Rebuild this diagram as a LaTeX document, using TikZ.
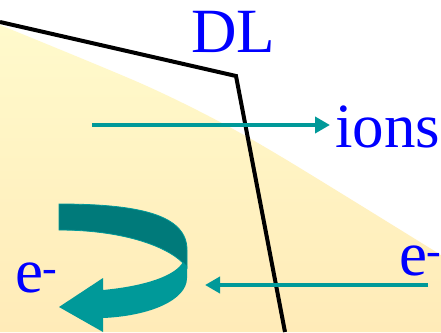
\documentclass[tikz,border=0pt]{standalone}
\usepackage{fontspec}
\setmainfont{Liberation Serif}
\usetikzlibrary{arrows.meta}
\definecolor{teal1}{RGB}{0,153,153}
\definecolor{tealdark}{RGB}{0,122,122}
\definecolor{ylwtop}{RGB}{255,250,204}
\definecolor{ylwbot}{RGB}{255,235,184}
\definecolor{txtblue}{RGB}{0,0,255}
\tikzset{
  lbl/.style={inner sep=0pt, outer sep=0pt, anchor=base west},
  tarrow/.style={draw=teal1, line width=4pt, -{Triangle[length=15pt,width=16pt]}},
  dlline/.style={draw=black, line width=4pt, line join=miter}
}
\newcommand{\bigtxt}[1]{{\fontspec{Liberation Serif}\fontsize{63}{63}\selectfont\color{txtblue}#1}}
\begin{document}
\begin{tikzpicture}[x=1pt,y=-1pt]
\useasboundingbox (0,0) rectangle (441,332);
\fill[white] (0,0) rectangle (441,332);
% yellow region
\shade[top color=ylwtop, bottom color=ylwbot]
  plot[smooth] coordinates {(0,25) (140,83) (220,122) (290,162) (441,255)}
  -- (441,332) -- (0,332) -- cycle;
% DL boundary line
\coordinate (p1) at (0,22);
\coordinate (p2) at (236,76);
\coordinate (p3) at (285,332);
\draw[dlline] (p1) -- (p2) -- (p3);
% labels
\node[lbl] (dl) at (191,52) {\bigtxt{DL}};
\node[lbl] (ions) at (335,147) {\bigtxt{ions}};
\node[lbl] (eright) at (399,275) {\bigtxt{e\textsuperscript{-}}};
\node[lbl] (eleft) at (15,292) {\bigtxt{e\textsuperscript{-}}};
% straight arrows
\coordinate (ia) at (92,125);
\coordinate (ib) at (330,125);
\draw[tarrow] (ia) -- (ib);
\coordinate (ea) at (428,285);
\coordinate (eb) at (205,285);
\draw[tarrow] (ea) -- (eb);
% curled arrow: back band
\fill[tealdark, draw=teal1, line width=0.8pt]
  (59,204) .. controls (140,204) and (187,215) .. (187,250)
  -- (187,268) -- (183,263)
  .. controls (165,245) and (120,230) .. (59,230) -- cycle;
% front band with head
\fill[teal1]
  (183,262) -- (187,266) -- (187,278)
  .. controls (187,300) and (150,316) .. (103,318)
  -- (103,332) -- (59,307) -- (103,278) -- (103,290)
  .. controls (145,286) and (175,276) .. (183,262) -- cycle;
\end{tikzpicture}
\end{document}
